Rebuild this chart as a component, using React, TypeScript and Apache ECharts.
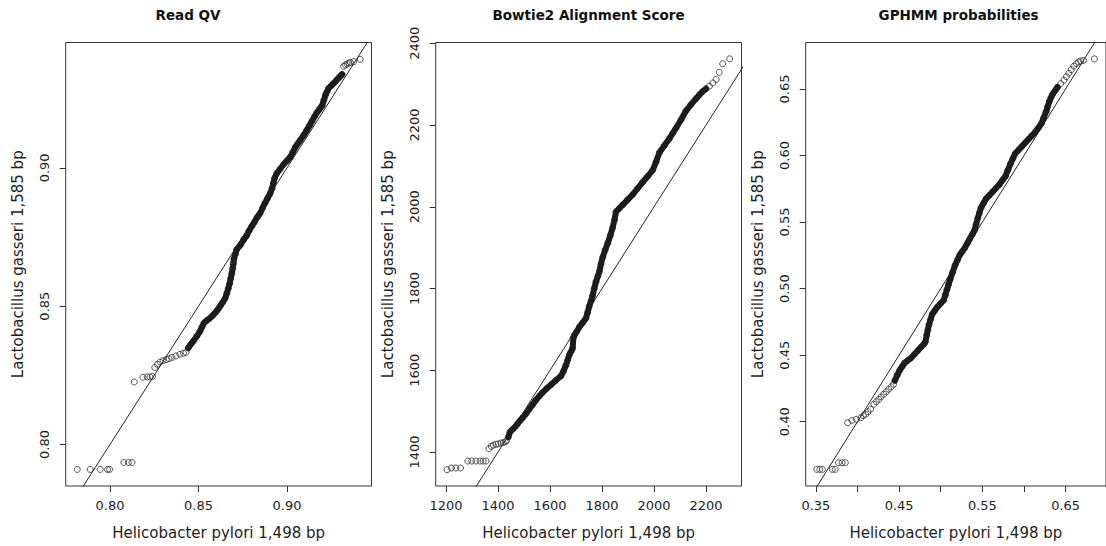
import React, { useEffect, useRef } from "react";
import * as echarts from "echarts";

// ---------- Panel 1: Read QV ----------
const qvX = [
  0.7815, 0.7888, 0.7945, 0.7986, 0.7998,
  0.8078, 0.8104, 0.8124,
  0.8137,
  0.8186, 0.821, 0.8226, 0.824,
  0.8253, 0.8268, 0.8283, 0.83, 0.8318, 0.8334, 0.835, 0.8372, 0.8395, 0.8415, 0.843,
  0.8442, 0.8456, 0.847, 0.849, 0.8508, 0.852, 0.8531, 0.8548, 0.8565, 0.858, 0.8593, 0.8608, 0.8621, 0.8636, 0.865,
  0.866, 0.8668, 0.8676, 0.8682, 0.8688, 0.8693, 0.8697, 0.87, 0.8708, 0.8716, 0.8735, 0.8755, 0.8772, 0.8785, 0.88,
  0.8815, 0.883, 0.8847, 0.8862, 0.8875, 0.889, 0.8905, 0.8915, 0.8923, 0.893, 0.8942, 0.896, 0.8981, 0.9, 0.9019,
  0.9033, 0.9047, 0.9061, 0.9075, 0.9094, 0.9112, 0.9127, 0.9141, 0.9155, 0.9169, 0.9184, 0.9198, 0.9208, 0.9217,
  0.9226, 0.9235, 0.925, 0.9264, 0.9278, 0.9292, 0.9302, 0.9311,
  0.932, 0.933, 0.9339, 0.935, 0.9358, 0.9377, 0.9413,
];
const qvY = [
  0.791, 0.791, 0.791, 0.791, 0.791,
  0.7935, 0.7935, 0.7935,
  0.8226,
  0.8243, 0.8244, 0.8244, 0.8246,
  0.8278, 0.829, 0.8298, 0.8303, 0.8307, 0.831, 0.8315, 0.832, 0.8326, 0.833, 0.8333,
  0.8349, 0.8362, 0.8373, 0.8391, 0.8409, 0.8425, 0.8439, 0.8449, 0.8457, 0.8466, 0.8475, 0.8487, 0.8499, 0.8513, 0.8528,
  0.8546, 0.8564, 0.8582, 0.86, 0.8618, 0.8636, 0.8654, 0.8671, 0.8688, 0.8705, 0.872, 0.874, 0.8755, 0.8772, 0.8788,
  0.8803, 0.882, 0.8835, 0.8855, 0.8872, 0.889, 0.8908, 0.8925, 0.8945, 0.8963, 0.898, 0.8995, 0.9013, 0.9026, 0.904,
  0.9057, 0.9075, 0.9088, 0.91, 0.9118, 0.9137, 0.9153, 0.9169, 0.9185, 0.92, 0.9213, 0.9225, 0.9245, 0.9263,
  0.9276, 0.9288, 0.9297, 0.9306, 0.9316, 0.9325, 0.9332, 0.9338,
  0.9367, 0.9372, 0.9376, 0.9379, 0.9381, 0.9384, 0.9392,
];
const qvDense = [0.8442, 0.9311];
const qvXTicks = [0.8, 0.85, 0.9];
const qvYTicks = [0.8, 0.85, 0.9];

// ---------- Panel 2: Bowtie2 Alignment Score ----------
const btX = [
  1204, 1221, 1238, 1256,
  1284, 1299, 1315, 1331, 1343, 1354,
  1365, 1374, 1382, 1392, 1401, 1411, 1420, 1428, 1433,
  1440, 1446, 1455, 1465, 1475, 1485,
  1495, 1508, 1520, 1533, 1546, 1559, 1572, 1588, 1604, 1622, 1642, 1652, 1661, 1668, 1674, 1681, 1687,
  1690, 1694, 1703, 1713, 1725, 1738, 1745, 1751, 1758, 1764, 1770, 1777, 1784, 1790, 1796, 1803, 1812, 1822,
  1832, 1841, 1848, 1854, 1866, 1880, 1898, 1918, 1937, 1956, 1975, 1995, 2008, 2021, 2040, 2059, 2072, 2085,
  2104, 2123, 2142, 2162, 2175, 2187, 2200,
  2213, 2226, 2239, 2251, 2264, 2291,
];
const btY = [
  1357, 1361, 1361, 1361,
  1378, 1378, 1378, 1378, 1378, 1378,
  1408, 1414, 1417, 1419, 1420, 1422, 1423, 1425, 1428,
  1437, 1449, 1455, 1461, 1469, 1477,
  1484, 1494, 1505, 1516, 1527, 1537, 1546, 1556, 1565, 1575, 1586, 1598, 1612, 1625, 1637, 1646, 1654,
  1680, 1686, 1695, 1706, 1716, 1727, 1742, 1757, 1770, 1783, 1800, 1817, 1830, 1842, 1860, 1877, 1894, 1911,
  1930, 1949, 1968, 1988, 1996, 2005, 2017, 2030, 2045, 2060, 2074, 2090, 2110, 2133, 2150, 2167, 2180, 2193,
  2213, 2235, 2250, 2265, 2274, 2282, 2289,
  2295, 2303, 2312, 2329, 2350, 2362,
];
const btDense = [1440, 2200];
const btXTicks = [1200, 1400, 1600, 1800, 2000, 2200];
const btYTicks = [1400, 1600, 1800, 2000, 2200, 2400];

// ---------- Panel 3: GPHMM probabilities ----------
const gpX = [
  0.3511, 0.3547, 0.3579, 0.3697, 0.3733,
  0.3772, 0.3815, 0.3854,
  0.3881, 0.3933, 0.3985, 0.404, 0.407, 0.4099, 0.4128, 0.4158, 0.4197, 0.4226, 0.4256, 0.4285, 0.4315, 0.4345,
  0.4374, 0.4404, 0.4433,
  0.4449, 0.4478, 0.4508, 0.4537, 0.4566, 0.4605, 0.4645, 0.4684, 0.4723, 0.4762, 0.4801, 0.4815,
  0.4832, 0.4845, 0.4859, 0.4878, 0.4898, 0.4927, 0.4957, 0.4996, 0.5035, 0.5055, 0.5074, 0.5094, 0.5113, 0.5143,
  0.5172, 0.5201, 0.523, 0.526, 0.5289, 0.5318, 0.5348, 0.5377, 0.5406, 0.5425, 0.5445, 0.5464, 0.5484, 0.5513,
  0.5543, 0.5582, 0.5621, 0.566, 0.57, 0.5738, 0.5777, 0.5806, 0.5836, 0.5865, 0.5895, 0.5934, 0.5973, 0.6012,
  0.6051, 0.609, 0.613, 0.6169, 0.6207, 0.6237, 0.6266, 0.6285, 0.6305, 0.6324, 0.6344, 0.6373, 0.6402,
  0.6441, 0.648, 0.651, 0.6539, 0.6568, 0.6598, 0.6627, 0.6656, 0.668, 0.6715, 0.6846,
];
const gpY = [
  0.3642, 0.3642, 0.3642, 0.3642, 0.3642,
  0.3692, 0.3692, 0.3692,
  0.3992, 0.401, 0.4018, 0.403, 0.4045, 0.4056, 0.4075, 0.4093, 0.4131, 0.415, 0.4168, 0.4187, 0.4206, 0.4225,
  0.4244, 0.4262, 0.4281,
  0.431, 0.435, 0.4388, 0.4415, 0.4441, 0.446, 0.448, 0.4507, 0.4533, 0.456, 0.4585, 0.46,
  0.4651, 0.469, 0.4729, 0.477, 0.4808, 0.4834, 0.486, 0.4887, 0.4913, 0.4952, 0.4992, 0.5031, 0.507, 0.5123,
  0.5175, 0.5215, 0.5254, 0.528, 0.5306, 0.5339, 0.5372, 0.5405, 0.5438, 0.5483, 0.5529, 0.5569, 0.5608, 0.5641,
  0.5674, 0.57, 0.5726, 0.5752, 0.5779, 0.5811, 0.5844, 0.589, 0.5936, 0.5975, 0.6015, 0.6041, 0.6067, 0.6094,
  0.612, 0.6146, 0.6172, 0.6205, 0.6238, 0.6284, 0.633, 0.6369, 0.6408, 0.6435, 0.6461, 0.6487, 0.6513,
  0.654, 0.6566, 0.6592, 0.6618, 0.6645, 0.6671, 0.669, 0.6702, 0.671, 0.6715, 0.6726,
];
const gpDense = [0.4449, 0.6402];
const gpXTicks = [0.35, 0.4, 0.45, 0.5, 0.55, 0.6, 0.65];
const gpXLabels = [0.35, 0.45, 0.55, 0.65];
const gpYTicks = [0.4, 0.45, 0.5, 0.55, 0.6, 0.65];

const titles = ["Read QV", "Bowtie2 Alignment Score", "GPHMM probabilities"];
const xName = "Helicobacter pylori 1,498 bp";
const yName = "Lactobacillus gasseri 1,585 bp";

const FONT = "DejaVu Sans";
const INK = "#1e1e1e";

function zip(xs: number[], ys: number[]) {
  return xs.map((x, i) => [x, ys[i]]);
}

export default function App() {
  const ref = useRef<HTMLDivElement>(null);
  useEffect(() => {
    if (!ref.current) return;
    const chart = echarts.init(ref.current, null, { renderer: "svg" });

    const panels = [
      {
        xs: qvX, ys: qvY, dense: qvDense,
        xr: [0.775, 0.9477], yr: [0.785, 0.9453],
        xt: qvXTicks, xl: qvXTicks, yt: qvYTicks, yl: qvYTicks,
        fmt: (v: number) => v.toFixed(2), ref: [0.7, 1.0],
        left: 65.7, titleX: 188,
      },
      {
        xs: btX, ys: btY, dense: btDense,
        xr: [1160.4, 2336.5], yr: [1317, 2402],
        xt: btXTicks, xl: btXTicks, yt: btYTicks, yl: btYTicks,
        fmt: (v: number) => String(Math.round(v)), ref: [1000, 2600],
        left: 435.7, titleX: 588.6,
      },
      {
        xs: gpX, ys: gpY, dense: gpDense,
        xr: [0.3378, 0.6985], yr: [0.3517, 0.6849],
        xt: gpXTicks, xl: gpXLabels, yt: gpYTicks, yl: gpYTicks,
        fmt: (v: number) => v.toFixed(2), ref: [0.3, 0.75],
        left: 805.7, titleX: 958.6,
      },
    ];

    const top = 42.5;
    const height = 443.5;
    const width = 305.8;

    const grid: any[] = [];
    const xAxis: any[] = [];
    const yAxis: any[] = [];
    const series: any[] = [];
    const graphic: any[] = [];

    panels.forEach((p, i) => {
      grid.push({
        left: p.left, top, width, height,
        show: true, borderColor: "#333", borderWidth: 1, backgroundColor: "transparent",
        containLabel: false,
      });
      const common = {
        type: "value",
        gridIndex: i,
        axisLine: { show: false },
        splitLine: { show: false },
        nameLocation: "middle",
        nameTextStyle: { fontFamily: FONT, fontSize: 15, color: INK },
      };
      xAxis.push({
        ...common,
        min: p.xr[0], max: p.xr[1],
        name: xName, nameGap: 39,
        axisTick: { show: true, inside: false, length: 6, lineStyle: { color: "#333" }, customValues: p.xt },
        axisLabel: {
          show: true, customValues: p.xl, formatter: p.fmt, margin: 13,
          fontFamily: FONT, fontSize: 13, color: INK,
        },
      });
      yAxis.push({
        ...common,
        min: p.yr[0], max: p.yr[1],
        name: yName, nameGap: 40,
        axisTick: { show: true, inside: false, length: 6, lineStyle: { color: "#333" }, customValues: p.yt },
        axisLabel: {
          show: true, customValues: p.yl, formatter: p.fmt, margin: 15, rotate: 90,
          fontFamily: FONT, fontSize: 13, color: INK,
        },
      });
      const pts = zip(p.xs, p.ys);
      series.push({
        type: "line", xAxisIndex: i, yAxisIndex: i, clip: true, silent: true,
        data: [[p.ref[0], p.ref[0]], [p.ref[1], p.ref[1]]],
        symbol: "none", lineStyle: { color: "#222", width: 1 },
      });
      series.push({
        type: "line", xAxisIndex: i, yAxisIndex: i, clip: true, silent: true,
        data: pts.filter((d) => d[0] >= p.dense[0] && d[0] <= p.dense[1]),
        symbol: "none", lineStyle: { color: "#1c1c1c", width: 6, join: "round", cap: "round" },
      });
      series.push({
        type: "scatter", xAxisIndex: i, yAxisIndex: i, clip: true, silent: true,
        data: pts, symbol: "circle", symbolSize: 6,
        itemStyle: { color: "transparent", borderColor: "#2a2a2a", borderWidth: 1 },
      });
      graphic.push({
        type: "text", x: p.titleX, y: 15,
        style: {
          text: titles[i], fontFamily: FONT, fontSize: 13.5, fontWeight: "bold",
          fill: "#111", align: "center", verticalAlign: "middle",
        },
      });
    });

    chart.setOption({
      animation: false,
      backgroundColor: "#ffffff",
      grid, xAxis, yAxis, series, graphic,
    });
    return () => chart.dispose();
  }, []);

  return (
    <div
      ref={ref}
      style={{ position: "absolute", left: 0, top: 0, width: 1106, height: 546, background: "#fff" }}
    />
  );
}
